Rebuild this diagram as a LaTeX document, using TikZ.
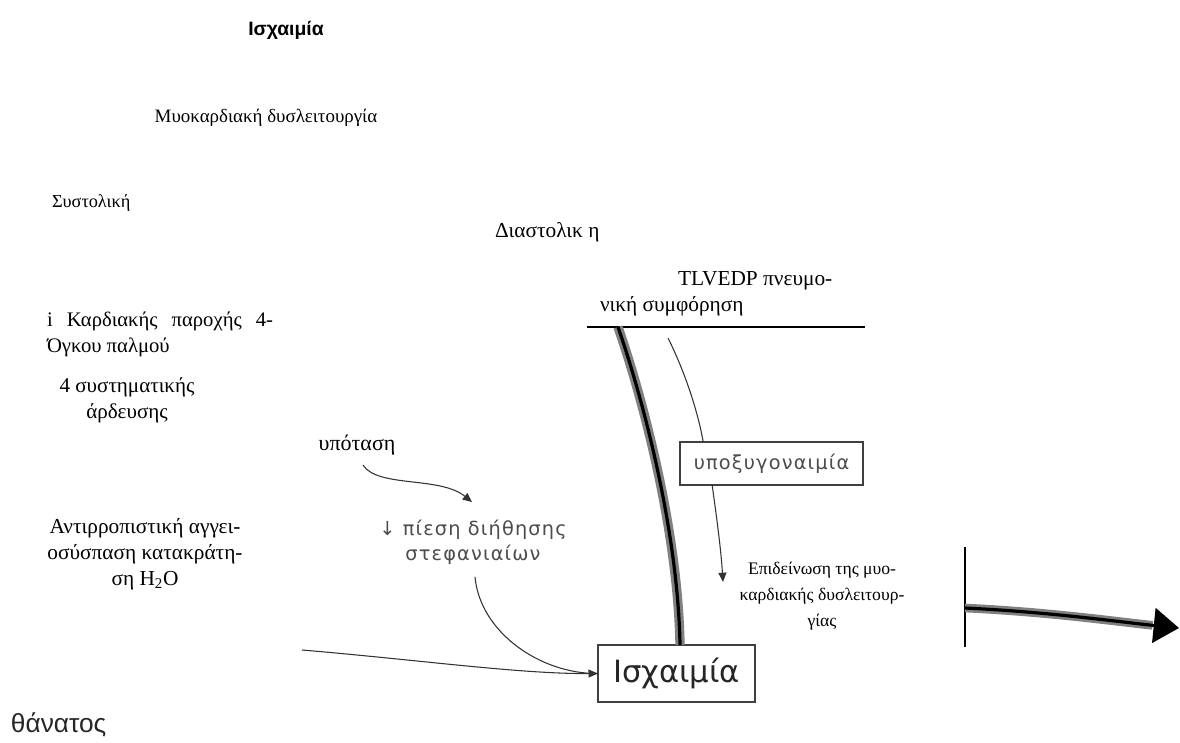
\documentclass[tikz,border=0pt]{standalone}
\usepackage{fontspec}
\setmainfont{Liberation Serif}
\newfontfamily\grsans{Liberation Sans}
\newfontfamily\widesans{DejaVu Sans}
\newfontfamily\spacedsans{DejaVu Sans}[LetterSpace=6]
\usetikzlibrary{arrows.meta,calc}
\begin{document}
\begin{tikzpicture}[x=0.75pt,y=-0.75pt,
  every node/.style={inner sep=0pt, outer sep=0pt},
  serif/.style={font=\fontsize{#1}{19.5}\selectfont},
  serif/.default=14.5,
  graytext/.style={text=black!70, font=\spacedsans\fontsize{14.5}{19}\selectfont},
  boxed/.style={draw=black!75, line width=1.1pt, text=black!75},
  thin/.style={draw=black!80, line width=0.8pt},
  tip/.style={-{Triangle[length=7pt,width=6pt]}},
  band/.style={line width=7pt, draw=black!50},
  core/.style={line width=2.4pt, draw=black}
]
\useasboundingbox (0,0) rectangle (1180,742);

% headings
\node[font=\grsans\bfseries\fontsize{14.5}{17}\selectfont] (title) at (286,30) {Ισχαιμία};
\node[serif=14.2] (dysl) at (266,118) {Μυοκαρδιακή δυσλειτουργία};
\node[serif=13.7, anchor=west] (syst) at (52,203) {Συστολική};
\node[serif=16, anchor=west] (diast) at (495,232) {Διαστολικ η};
\node[serif=16, anchor=west, align=left] (tlvedp) at (600,293.5)
  {\hspace*{58.5pt}TLVEDP πνευμο-\\νική συμφόρηση};

% left column
\node[serif=15.5, anchor=west, align=left] (paroxi) at (47,334.5)
  {\makebox[169.5pt][s]{i Καρδιακής παροχής 4-}\\Όγκου παλμού};
\node[serif=15.8, align=center] (ardeusi) at (127,400.5) {4 συστηματικής\\άρδευσης};
\node[serif=16, align=center] (antir) at (145,554)
  {Αντιρροπιστική αγγει-\\οσύσπαση κατακράτη-\\ση H\textsubscript{2}O};

% central chain
\node[serif=16.5] (ypot) at (357,445) {υπόταση};
\node[graytext, align=center] (piesi) at (473,542.5) {↓ πίεση διήθησης\\στεφανιαίων};
\node[boxed, graytext, minimum width=137pt, minimum height=32.5pt] (hypo) at (771.5,463.5) {υποξυγοναιμία};
\node[boxed, minimum width=118pt, minimum height=43pt,
      font=\widesans\fontsize{23}{26}\selectfont, text=black!85] (isch) at (676.5,673.5) {Ισχαιμία};
\node[serif=13.2, align=center] (epid) at (822,596)
  {Επιδείνωση της μυο-\\καρδιακής δυσλειτουρ-\\γίας};
\node[anchor=west, font=\grsans\fontsize{19.7}{23}\selectfont, text=black!85] (death) at (11,725) {θάνατος};

% free ends of connectors
\coordinate (hlL) at (587,327);
\coordinate (hlR) at (865,327);
\coordinate (arcS) at (668,338);
\coordinate (arcE) at (723,582);
\coordinate (leftS) at (302,650);
\coordinate (vT) at (965,547);
\coordinate (vB) at (965,647);
\coordinate (outS) at (965,608);
\coordinate (outE) at (1179,628);

% pulmonary congestion bar and the heavy feedback path
\draw[line width=1.2pt] (hlL) -- (hlR);
\draw[band] (618,327) .. controls (645,405) and (678,535) .. ($(isch.north)+(3.5,0)$);
\draw[core] (618,327) .. controls (645,405) and (678,535) .. ($(isch.north)+(3.5,0)$);

% thin arc through the hypoxaemia box
\draw[thin] (arcS) .. controls (685,372) and (698,412) .. ($(hypo.north west)+(23,0)$);
\draw[thin, tip] ($(hypo.south west)+(32,0)$) .. controls (717,520) and (721,550) .. (arcE);

% hypotension -> coronary perfusion pressure -> ischaemia
\draw[thin, tip] ($(ypot.south)+(6,10)$) .. controls (378,488) and (440,476) .. ($(piesi.north)+(-1,-18)$);
\draw[thin] ($(piesi.south)+(2,12)$) .. controls (480,632) and (540,674) .. (isch.west);
\draw[thin, tip] (leftS) .. controls (420,660) and (520,674) .. (isch.west);

% worsening -> outcome
\draw[line width=1.2pt] (vT) -- (vB);
\draw[line width=6.5pt, draw=black!50, shorten >=20pt] (outS) .. controls (1050,612) and (1120,622) .. (outE);
\draw[line width=2.4pt, -{Triangle[length=19pt,width=26pt]}] (outS) .. controls (1050,612) and (1120,622) .. (outE);
\end{tikzpicture}
\end{document}
